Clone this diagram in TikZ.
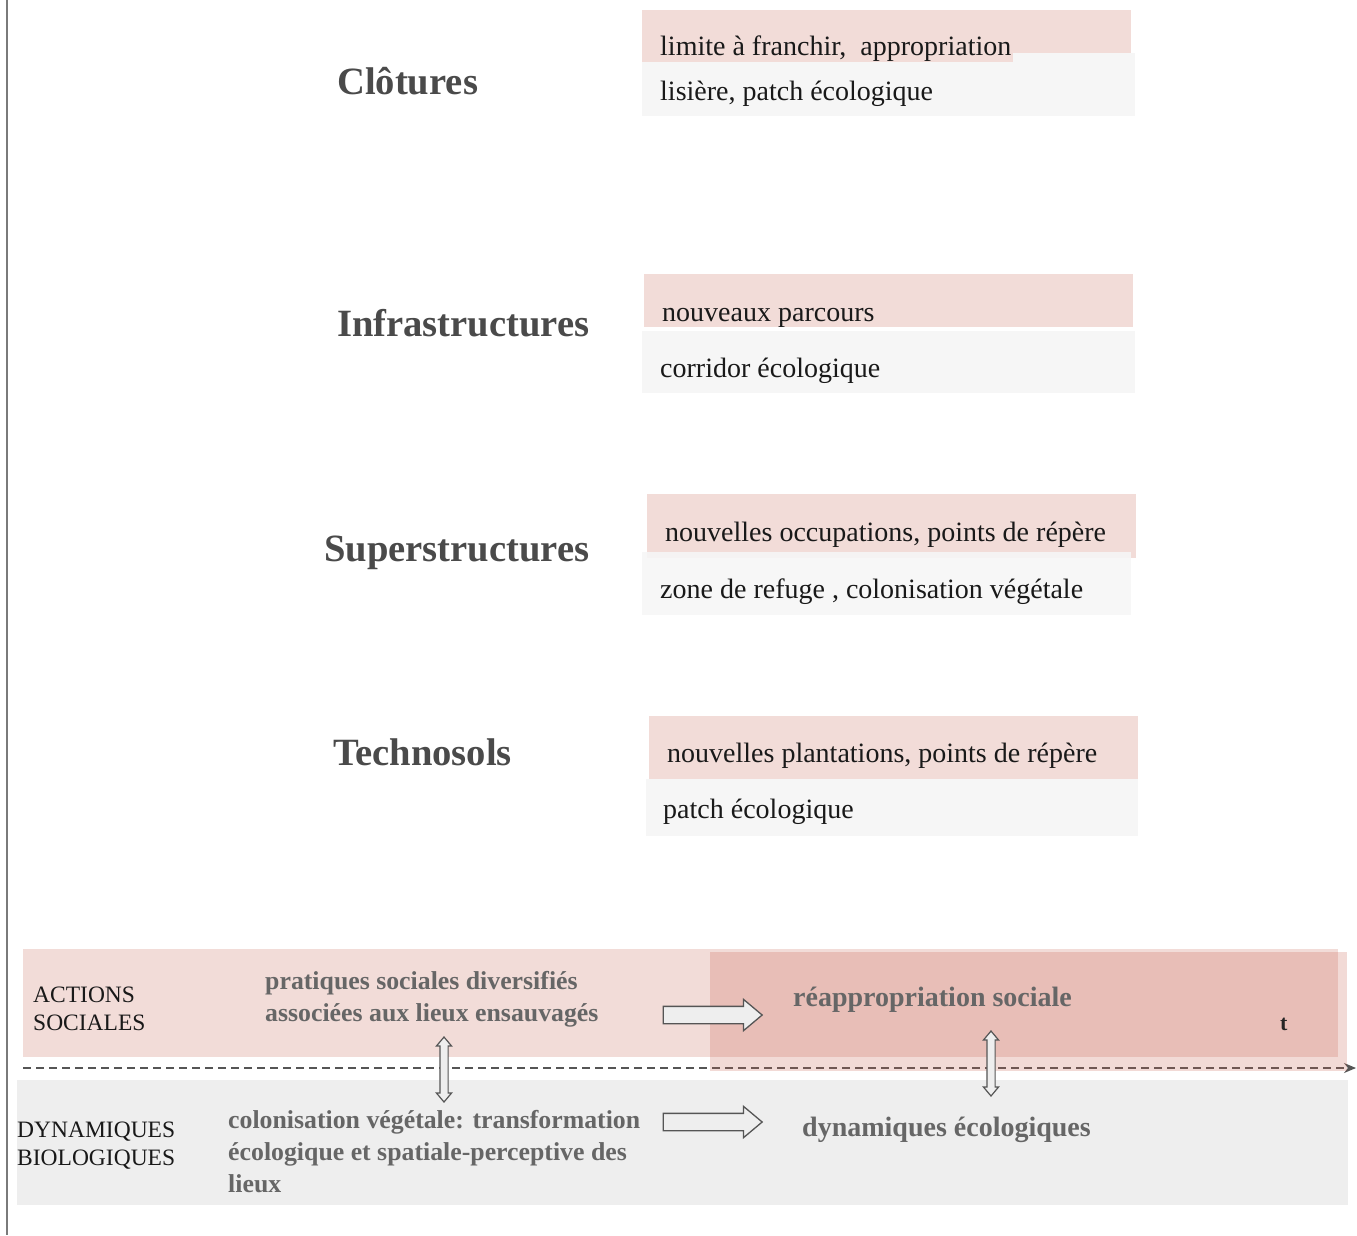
\documentclass[tikz,border=0pt]{standalone}
\usepackage{fontspec}
\setmainfont{Liberation Serif}
\usetikzlibrary{shapes.arrows,arrows.meta}

\definecolor{rosepale}{HTML}{F2DCD8}
\definecolor{grispale}{HTML}{F6F6F6}
\definecolor{grisbande}{HTML}{EEEEEE}
\definecolor{rosefonce}{RGB}{199,94,77}
\definecolor{titregris}{HTML}{4A4A4A}
\definecolor{textebande}{HTML}{666666}
\definecolor{traitgris}{HTML}{7A7A7A}
\definecolor{axegris}{HTML}{555555}

\tikzset{
  titre/.style={anchor=base west, inner sep=0pt, text=titregris,
    font=\bfseries\fontsize{38.6}{44}\selectfont},
  boxtext/.style={anchor=base west, inner sep=0pt, text=black!90,
    font=\fontsize{28}{34}\selectfont},
  % multi-line blocks: the base anchor sits under the last line
  categ/.style={anchor=base west, inner sep=0pt, text=black!90, align=left,
    font=\fontsize{23.5}{28}\selectfont},
  bandtext/.style={anchor=base west, inner sep=0pt, text=textebande, align=left,
    font=\bfseries\fontsize{25.8}{32}\selectfont},
  bandbig/.style={anchor=base west, inner sep=0pt, text=textebande,
    font=\bfseries\fontsize{28}{34}\selectfont},
  fleche/.style={single arrow, draw=axegris, fill=grisbande, line width=1.3pt,
    inner xsep=0pt, inner ysep=8pt, minimum height=99pt,
    single arrow head extend=7pt, single arrow tip angle=80},
  dfleche/.style={double arrow, draw=axegris, fill=grisbande, line width=1.2pt,
    inner sep=3.5pt, minimum height=65pt,
    double arrow head extend=3.5pt, double arrow tip angle=80,
    shape border rotate=90},
}

\begin{document}
\begin{tikzpicture}[x=1pt,y=-1pt]
\useasboundingbox (0,0) rectangle (1357,1235);

% left rule
\coordinate (regleH) at (7,0);
\coordinate (regleB) at (7,1235);
\draw[traitgris, line width=2pt] (regleH) -- (regleB);

% ---- Clôtures
\node[titre] (clot) at (337,94) {Clôtures};
\fill[rosepale] (642,10) rectangle (1131,62);
\fill[grispale] (642,62) rectangle (1135,116);
\fill[grispale] (1013,53) rectangle (1135,62);
\node[boxtext] (clotA) at (660,55) {limite à franchir,\ \ appropriation};
\node[boxtext] (clotB) at (660,100) {lisière, patch écologique};

% ---- Infrastructures
\node[titre] (infra) at (337,336) {Infrastructures};
\fill[rosepale] (644,274) rectangle (1133,327);
\fill[grispale] (642,331) rectangle (1135,393);
\node[boxtext] (infraA) at (662,321) {nouveaux parcours};
\node[boxtext] (infraB) at (660,377) {corridor écologique};

% ---- Superstructures
\node[titre] (super) at (324,561) {Superstructures};
\fill[rosepale] (647,494) rectangle (1136,558);
\fill[grispale, opacity=0.9] (642,552) rectangle (1131,615);
\node[boxtext] (superA) at (665,541) {nouvelles occupations, points de répère};
\node[boxtext] (superB) at (660,598) {zone de refuge , colonisation végétale};

% ---- Technosols
\node[titre] (techno) at (333,765) {Technosols};
\fill[rosepale] (649,716) rectangle (1138,779);
\fill[grispale] (646,779) rectangle (1138,836);
\node[boxtext] (technoA) at (667,762) {nouvelles plantations, points de répère};
\node[boxtext] (technoB) at (663,818) {patch écologique};

% ---- bottom bands
\fill[rosepale] (23,949) rectangle (1338,1057);
\fill[grisbande] (17,1080) rectangle (1348,1205);

% time axis
\coordinate (axeD) at (23,1068);
\coordinate (axeF) at (1356,1068);
\draw[axegris, line width=1.4pt, dash pattern=on 8pt off 5pt,
  -{Stealth[length=12pt,width=10pt]}] (axeD) -- (axeF);

% later period overlay
\fill[rosefonce, opacity=0.23] (710,952) rectangle (1347,1071);

% labels of the bands
\node[categ] (actions) at (33,1030) {ACTIONS\\SOCIALES};
\node[categ] (dyn) at (17,1165) {DYNAMIQUES\\BIOLOGIQUES};

\node[bandtext] (prat) at (265,1021) {pratiques sociales diversifiés\\associées aux lieux ensauvagés};
\node[bandtext] (colo) at (228,1192) {colonisation végétale: transformation\\écologique et spatiale-perceptive des\\lieux};

\node[bandbig] (reap) at (793,1006) {réappropriation sociale};
\node[bandbig] (dynEco) at (802,1136) {dynamiques écologiques};

\node[anchor=base west, inner sep=0pt, text=black!85,
  font=\bfseries\fontsize{22}{24}\selectfont] (tlab) at (1280,1030) {t};

% hollow arrows
\node[fleche] (f1) at (707.5,1015) {};
\node[fleche] (f2) at (707.5,1122) {};
\node[dfleche] (d1) at (444,1069.5) {};
\node[dfleche] (d2) at (991,1063.5) {};

\end{tikzpicture}
\end{document}
